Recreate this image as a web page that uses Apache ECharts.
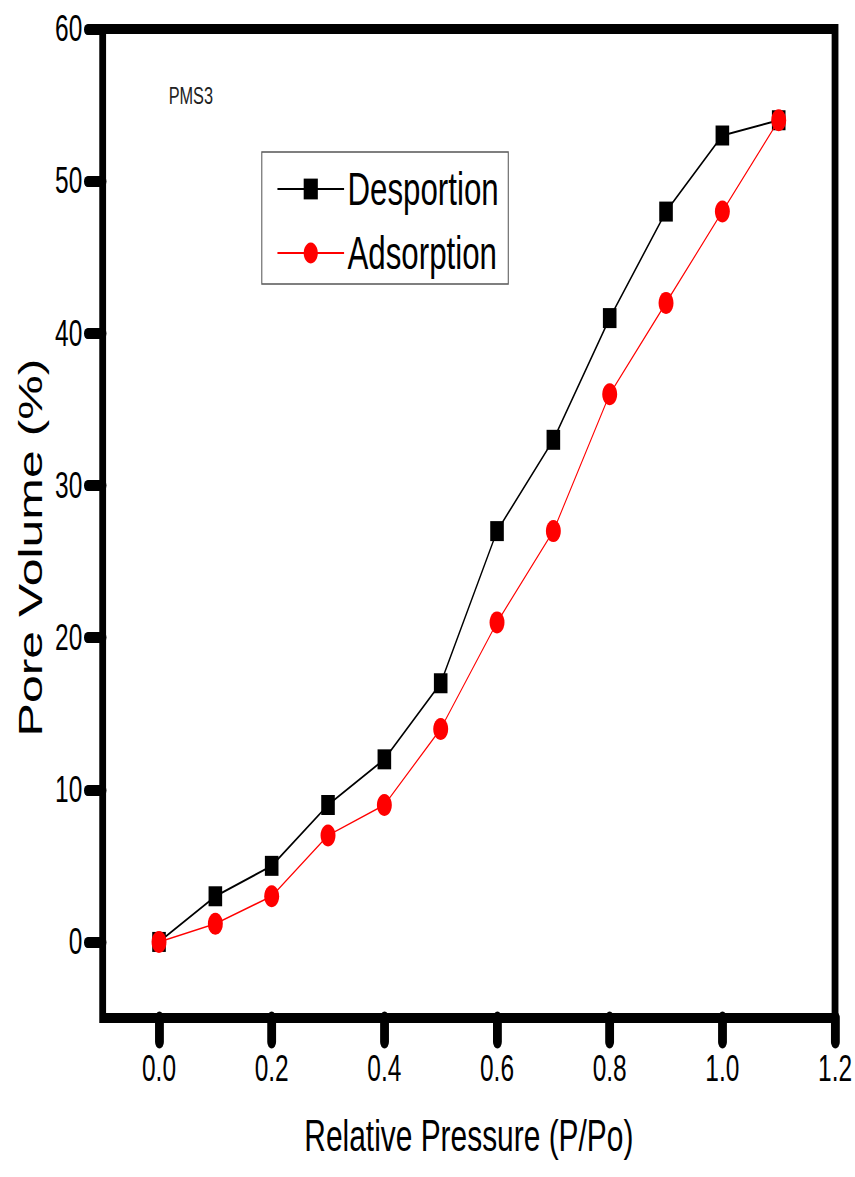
<!DOCTYPE html>
<html>
<head>
<meta charset="utf-8">
<script src="https://cdn.jsdelivr.net/npm/echarts@6/dist/echarts.min.js"></script>
<style>
  html, body { margin: 0; padding: 0; background: #fff; overflow: hidden; }
  #wrap { width: 855px; height: 1177px; overflow: hidden; }
  #chart { width: 1257px; height: 1177px; transform: scaleX(0.68); transform-origin: 0 0; }
</style>
</head>
<body>
<div id="wrap"><div id="chart"></div></div>
<script>
// ---- data ----
const pressure   = [0.0, 0.1, 0.2, 0.3, 0.4, 0.5, 0.6, 0.7, 0.8, 0.9, 1.0, 1.1];
const desorption = [0, 3, 5, 9, 12, 17, 27, 33, 41, 48, 53, 54];
const adsorption = [0, 1.2, 3, 7, 9, 14, 21, 27, 36, 42, 48, 54];
const xTicks = [0.0, 0.2, 0.4, 0.6, 0.8, 1.0, 1.2];
const yTicks = [0, 10, 20, 30, 40, 50, 60];
const seriesNames = ['Desportion', 'Adsorption'];
const sampleLabel = 'PMS3';
const xTitle = 'Relative Pressure (P/Po)';
const yTitle = 'Pore Volume (%)';

const font = "'Liberation Sans', Arial, sans-serif";
const chart = echarts.init(document.getElementById('chart'), null, { renderer: 'svg' });

chart.setOption({
  animation: false,
  backgroundColor: '#fff',
  title: {
    text: sampleLabel,
    left: 243, top: 78,
    textStyle: { fontFamily: font, fontSize: 24, fontWeight: 'normal', color: '#222' }
  },
  legend: {
    orient: 'vertical',
    left: 385, top: 152,
    data: seriesNames,
    borderColor: '#555', borderWidth: 1.5,
    padding: [14, 14, 8, 22],
    itemWidth: 98, itemHeight: 26, itemGap: 18,
    textStyle: { fontFamily: font, fontSize: 46, color: '#000' }
  },
  grid: {
    left: 151, right: 29, top: 29, bottom: 159,
    show: true, borderColor: '#000', borderWidth: 10, backgroundColor: 'transparent'
  },
  xAxis: {
    type: 'value', min: -0.1, max: 1.2,
    name: xTitle, nameLocation: 'middle', nameGap: 96,
    nameTextStyle: { fontFamily: font, fontSize: 44, color: '#000' },
    axisLine: { show: false, onZero: false },
    splitLine: { show: false },
    axisTick: { show: true, length: 24, customValues: xTicks,
      lineStyle: { color: '#000', width: 13, cap: 'round' } },
    axisLabel: { customValues: xTicks, margin: 33, fontFamily: font, fontSize: 36, color: '#000',
      formatter: v => v.toFixed(1) }
  },
  yAxis: {
    type: 'value', min: -5, max: 60,
    name: yTitle, nameLocation: 'middle', nameGap: 82,
    nameTextStyle: { fontFamily: font, fontSize: 50, color: '#000', padding: [0, 48, 0, 0] },
    axisLine: { show: false, onZero: false },
    splitLine: { show: false },
    axisTick: { show: true, length: 22, customValues: yTicks,
      lineStyle: { color: '#000', width: 11, cap: 'round' } },
    axisLabel: { customValues: yTicks, margin: 30, fontFamily: font, fontSize: 36, color: '#000' }
  },
  series: [
    {
      name: seriesNames[0], type: 'line',
      data: pressure.map((p, i) => [p, desorption[i]]),
      symbol: 'rect', symbolSize: 20,
      lineStyle: { color: '#000', width: 2 },
      itemStyle: { color: '#000' },
      z: 2
    },
    {
      name: seriesNames[1], type: 'line',
      data: pressure.map((p, i) => [p, adsorption[i]]),
      symbol: 'circle', symbolSize: 22,
      lineStyle: { color: '#ff0000', width: 1.5 },
      itemStyle: { color: '#ff0000' },
      z: 3
    }
  ]
});
</script>
</body>
</html>
